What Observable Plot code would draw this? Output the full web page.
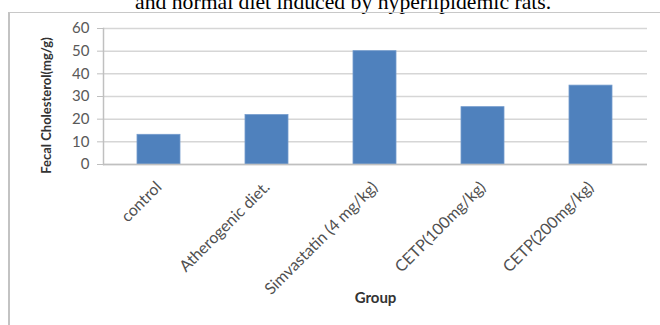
<!DOCTYPE html>
<html>
<head>
<meta charset="utf-8">
<script src="https://cdn.jsdelivr.net/npm/d3@7"></script>
<script src="https://cdn.jsdelivr.net/npm/@observablehq/plot@0.6"></script>
<style>
  html, body { margin: 0; padding: 0; background: #fff; width: 660px; height: 325px; overflow: hidden; position: relative; }
  #title { position: absolute; left: 135px; top: -8px; font-family: "Liberation Serif", "Times New Roman", serif; font-size: 21.7px; line-height: 1; white-space: nowrap; color: #000; }
  #frame { position: absolute; left: 8px; top: 12px; width: 700px; height: 400px; border-left: 2px solid #c3c3c3; border-top: 1px solid #c8c8c8; box-sizing: border-box; }
  #chart { position: absolute; left: 0; top: 0; }
</style>
</head>
<body>
<div id="title">and normal diet induced by hyperlipidemic rats.</div>
<div id="frame"></div>
<div id="chart"></div>
<script>
const groups = ["control", "Atherogenic diet.", "Simvastatin (4 mg/kg)", "CETP(100mg/kg)", "CETP(200mg/kg)"];
const values = [13.1, 21.8, 50.0, 25.3, 34.8];
const yTicks = [0, 10, 20, 30, 40, 50, 60];
const yTitle = "Fecal Cholesterol(mg/g)";
const xTitle = "Group";

const data = groups.map((g, i) => ({group: g, value: values[i]}));

const chart = Plot.plot({
  width: 660,
  height: 325,
  marginLeft: 103,
  marginRight: 13,
  marginTop: 28,
  marginBottom: 161,
  style: {fontFamily: "Lato, 'Open Sans', sans-serif", fontSize: "14px", color: "#595959", background: "transparent", overflow: "visible"},
  x: {domain: groups, paddingInner: 0.6, paddingOuter: 0.3, label: null},
  y: {domain: [0, 60], label: null},
  marks: [
    Plot.gridY(yTicks, {stroke: "#d6d6d6", strokeOpacity: 1, strokeWidth: 1.5}),
    Plot.axisY(yTicks, {tickSize: 6, tickPadding: 8, stroke: "#bfbfbf", fill: "#595959", fontSize: 15, label: null}),
    Plot.axisX({tickSize: 0, tickRotate: -45, tickPadding: 20, fontSize: 16, fill: "#505050", label: null}),
    Plot.barY(data, {x: "group", y: "value", fill: "#4f81bd", stroke: "#739bcc", strokeWidth: 0.8}),
    Plot.ruleY([0], {stroke: "#c0c0c0", strokeWidth: 1.5}),
    Plot.frame({anchor: "left", stroke: "#c0c0c0", strokeWidth: 1.5}),
    Plot.text([yTitle], {text: d => d, frameAnchor: "left", textAnchor: "middle", rotate: -90, dx: -57, dy: 9, fontWeight: "bold", fontSize: 13, fill: "#333333"}),
    Plot.text([xTitle], {text: d => d, frameAnchor: "bottom", dy: 138, fontWeight: "bold", fontSize: 15, fill: "#333333"})
  ]
});
document.getElementById("chart").appendChild(chart);
</script>
</body>
</html>
